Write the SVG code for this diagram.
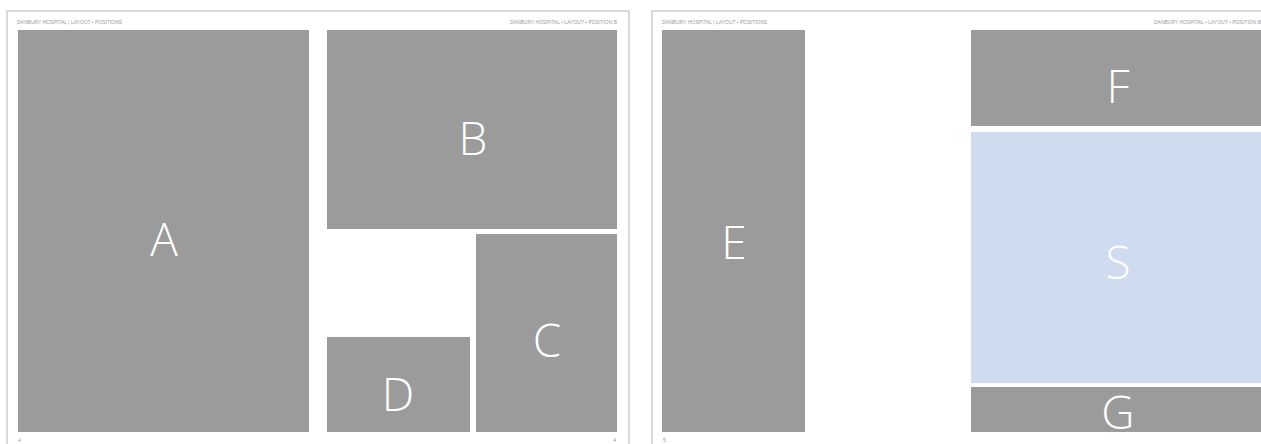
<svg xmlns="http://www.w3.org/2000/svg" width="1261" height="444" viewBox="0 0 1261 444">
<style>
.page{fill:#ffffff;stroke:#d9d9d9;stroke-width:2}
.blk{fill:#9a9b9a}
.sel{fill:#cfdbef}
.lbl{font-family:"Open Sans","Noto Sans",sans-serif;font-size:46px;font-weight:300;fill:#ffffff;text-anchor:middle;dominant-baseline:central}
.hdr{font-family:"Liberation Sans",sans-serif;font-size:5px;fill:#9a9a9a}
.num{font-family:"Liberation Sans",sans-serif;font-size:5px;fill:#9a9a9a}
</style>
<rect width="1261" height="444" fill="#ffffff"/>
<rect class="page" x="7" y="11" width="622" height="440"/>
<rect class="page" x="652" y="11" width="620" height="440"/>
<text class="hdr" x="17" y="24">DANBURY HOSPITAL | LAYOUT • POSITIONS</text>
<text class="hdr" x="617" y="24" text-anchor="end">DANBURY HOSPITAL • LAYOUT • POSITION B</text>
<text class="hdr" x="662" y="24">DANBURY HOSPITAL | LAYOUT • POSITIONS</text>
<text class="hdr" x="1261" y="24" text-anchor="end">DANBURY HOSPITAL • LAYOUT • POSITION B</text>
<text class="num" x="18" y="442">4</text>
<text class="num" x="616" y="442" text-anchor="end">4</text>
<text class="num" x="663" y="442">5</text>
<g id="node-A"><rect class="blk" x="18" y="30" width="291" height="402"/><text class="lbl" x="164" y="238">A</text></g>
<g id="node-B"><rect class="blk" x="327" y="30" width="290" height="199"/><text class="lbl" x="473" y="137">B</text></g>
<g id="node-C"><rect class="blk" x="476" y="234" width="141" height="198"/><text class="lbl" x="547" y="339">C</text></g>
<g id="node-D"><rect class="blk" x="327" y="337" width="143" height="95"/><text class="lbl" x="398" y="393">D</text></g>
<g id="node-E"><rect class="blk" x="662" y="30" width="143" height="402"/><text class="lbl" x="734" y="241">E</text></g>
<g id="node-F"><rect class="blk" x="971" y="30" width="290" height="96"/><text class="lbl" x="1118" y="85">F</text></g>
<g id="node-S"><rect class="sel" x="971" y="132" width="290" height="251"/><text class="lbl" x="1118" y="261">S</text></g>
<g id="node-G"><rect class="blk" x="971" y="387" width="290" height="45"/><text class="lbl" x="1118" y="411">G</text></g>
<g id="connectors"></g>
</svg>
